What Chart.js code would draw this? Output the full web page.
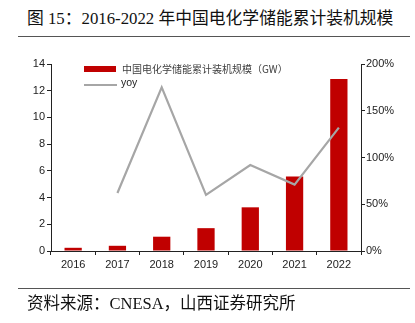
<!DOCTYPE html>
<html>
<head>
<meta charset="utf-8">
<script src="https://cdn.jsdelivr.net/npm/chart.js@4"></script>
<style>
    html, body { margin: 0; padding: 0; background: #fff; }
    body { width: 415px; height: 323px; position: relative; overflow: hidden; }
    #title {
        position: absolute; left: 27px; top: 5px;
        font-family: "Liberation Serif", "Noto Sans CJK SC", serif;
        font-size: 16.8px; color: #111; white-space: nowrap;
    }
    #source {
        position: absolute; left: 27px; top: 290px;
        font-family: "Liberation Serif", "Noto Sans CJK SC", serif;
        font-size: 16.5px; color: #111; white-space: nowrap;
    }
    .rule { position: absolute; left: 18px; width: 392px; height: 1px; background: #555; }
    #wrap { position: absolute; left: 0; top: 0; width: 415px; height: 323px; }
</style>
</head>
<body>
<div id="title">图 15：2016-2022 年中国电化学储能累计装机规模</div>
<div class="rule" style="top:36px"></div>
<div id="wrap"><canvas id="chart"></canvas></div>
<div class="rule" style="top:288px"></div>
<div id="source">资料来源：CNESA，山西证券研究所</div>

<script>
(function () {
    "use strict";

    const years = ["2016", "2017", "2018", "2019", "2020", "2021", "2022"];
    const capacity = [0.24, 0.39, 1.07, 1.71, 3.27, 5.58, 12.87]; // GW
    const yoy = [null, 62, 175, 60, 92, 71, 132]; // %
    const barLabel = "中国电化学储能累计装机规模（GW）";
    const lineLabel = "yoy";

    const red = "#C00000";
    const grey = "#A6A6A6";
    const axisColor = "#222";
    const tickFont = { family: "Liberation Sans, Arial", size: 11 };

    // legend drawn inside the plot area, top-left
    const innerLegend = {
        id: "innerLegend",
        afterDraw(chart) {
            const ctx = chart.ctx;
            const x = chart.chartArea.left + 33;
            const y = chart.chartArea.top + 3;
            ctx.save();
            ctx.fillStyle = red;
            ctx.fillRect(x, y - 1, 32, 6);
            ctx.strokeStyle = grey;
            ctx.lineWidth = 2;
            ctx.beginPath();
            ctx.moveTo(x, y + 18);
            ctx.lineTo(x + 33, y + 18);
            ctx.stroke();
            ctx.fillStyle = "#404040";
            ctx.textBaseline = "middle";
            ctx.font = '10px "Noto Sans CJK SC"';
            ctx.fillText(barLabel, x + 38, y + 2);
            ctx.fillStyle = "#222";
            ctx.font = "10.5px Liberation Sans, Arial";
            ctx.fillText(lineLabel, x + 37, y + 16);
            ctx.restore();
        }
    };

    const ctx = document.getElementById("chart").getContext("2d");
    new Chart(ctx, {
        data: {
            labels: years,
            datasets: [
                {
                    type: "line",
                    label: lineLabel,
                    data: yoy,
                    yAxisID: "y1",
                    borderColor: grey,
                    borderWidth: 2.2,
                    pointRadius: 0,
                    tension: 0,
                    order: 0,
                },
                {
                    type: "bar",
                    label: barLabel,
                    data: capacity,
                    yAxisID: "y",
                    backgroundColor: red,
                    categoryPercentage: 1,
                    barPercentage: 0.39,
                    order: 1,
                },
            ],
        },
        options: {
            responsive: true,
            maintainAspectRatio: false,
            animation: false,
            layout: { padding: { top: 64, left: 0, right: 0, bottom: 0 } },
            plugins: {
                legend: { display: false },
                tooltip: { enabled: false },
            },
            scales: {
                x: {
                    afterFit(s) { s.height = 72; },
                    border: { color: axisColor, width: 1 },
                    grid: { drawOnChartArea: false, tickLength: 4, tickColor: axisColor, offset: true },
                    ticks: { color: "#222", font: tickFont, padding: 3, maxRotation: 0 },
                },
                y: {
                    position: "left",
                    min: 0,
                    max: 14,
                    afterFit(s) { s.width = 51; },
                    border: { color: axisColor, width: 1 },
                    grid: { drawOnChartArea: false, tickLength: 4, tickColor: axisColor },
                    ticks: { stepSize: 2, color: "#222", font: tickFont, padding: 2 },
                },
                y1: {
                    position: "right",
                    min: 0,
                    max: 200,
                    afterFit(s) { s.width = 54; },
                    border: { color: axisColor, width: 1 },
                    grid: { drawOnChartArea: false, tickLength: 4, tickColor: axisColor },
                    ticks: {
                        stepSize: 50,
                        color: "#222",
                        font: tickFont,
                        padding: 1,
                        callback: (v) => v + "%",
                    },
                },
            },
        },
        plugins: [innerLegend],
    });
})();
</script>
</body>
</html>
